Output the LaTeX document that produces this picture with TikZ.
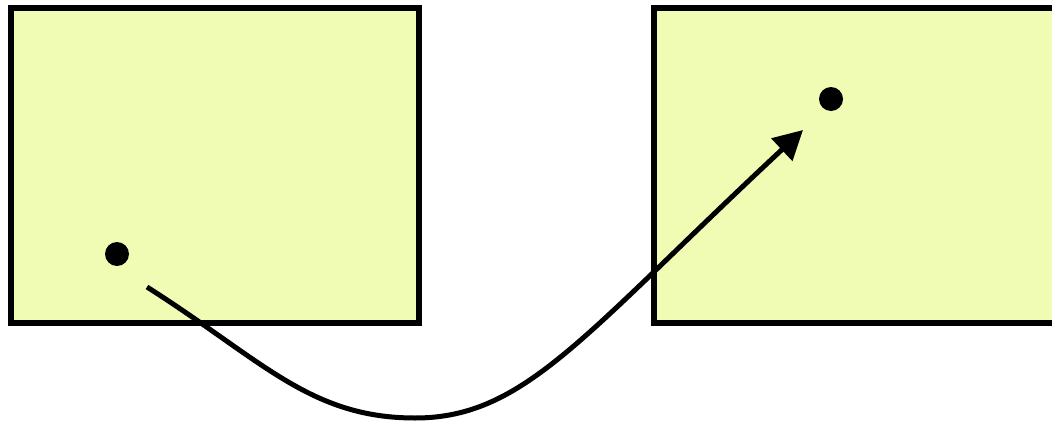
\documentclass[tikz,border=0pt]{standalone}
\usetikzlibrary{arrows.meta}
\definecolor{boxfill}{RGB}{240,252,180}
\begin{document}
\begin{tikzpicture}[x=1pt,y=-1pt,
  panel/.style={draw=black,fill=boxfill,line width=5.5pt,inner sep=0pt,outer sep=0pt},
  dot/.style={circle,fill=black,inner sep=0pt,minimum size=24pt},
  link/.style={line width=5pt,-{Triangle[length=29pt,width=30pt]}}]
\useasboundingbox (0,0) rectangle (1052,423);
\node[panel,minimum width=408pt,minimum height=315pt] (left) at (215,165.5) {};
\node[panel,minimum width=404pt,minimum height=315pt] (right) at (856,165.5) {};
\node[dot] (a) at (117,254) {};
\node[dot] (b) at (831,99) {};
\coordinate (s) at (147,287);
\coordinate (m) at (415,418);
\coordinate (t) at (803,130);
\draw[link] (s) .. controls (262,360) and (310,418) .. (m)
  .. controls (525,418) and (584,334) .. (t);
\end{tikzpicture}
\end{document}
